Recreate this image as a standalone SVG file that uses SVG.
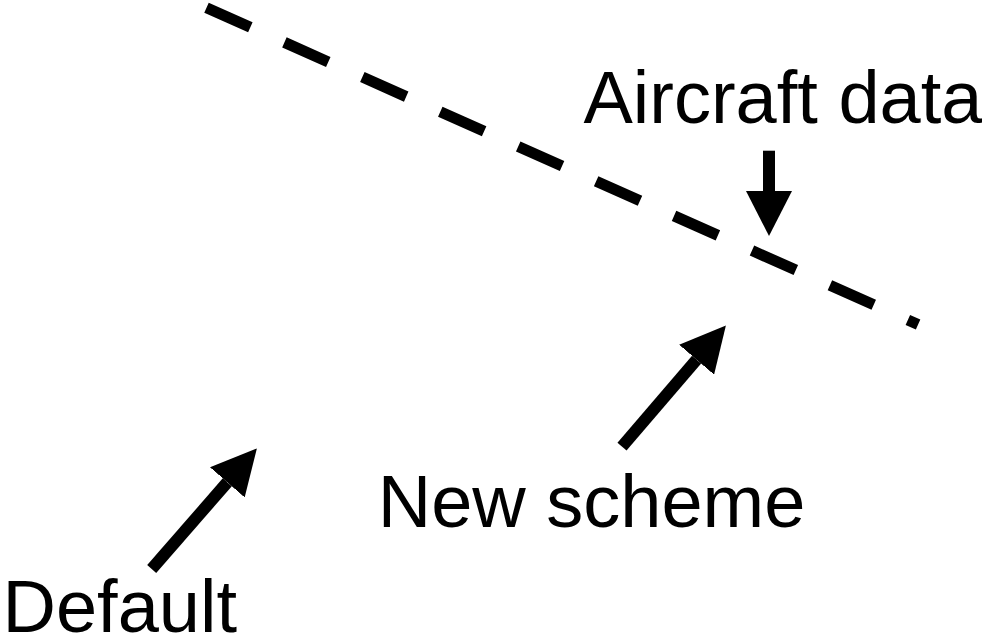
<svg xmlns="http://www.w3.org/2000/svg" width="982" height="642" viewBox="0 0 982 642">
  <style>
    .lbl { font-family: "Liberation Sans", Arial, sans-serif; font-size: 74px; fill: #000; }
    .shaft { stroke: #000; stroke-width: 12; fill: none; stroke-linecap: butt; }
    .dash { stroke: #000; stroke-width: 11; fill: none; stroke-dasharray: 48 37.3; stroke-linecap: butt; }
  </style>
  <defs>
    <marker id="ah" viewBox="0 0 45 46" refX="0" refY="23" markerWidth="45" markerHeight="46" markerUnits="userSpaceOnUse" orient="auto">
      <path d="M0,0 L45,23 L0,46 Z" fill="#000"/>
    </marker>
  </defs>
  <rect width="982" height="642" fill="#fff"/>
  <g id="boundary">
    <path class="dash" d="M206.5,7.7 L918.1,324.5"/>
  </g>
  <g id="label-aircraft-data">
    <text class="lbl" x="583.5" y="123.3">Aircraft data</text>
  </g>
  <g id="label-new-scheme">
    <text class="lbl" x="377.7" y="526.7">New scheme</text>
  </g>
  <g id="label-default">
    <text class="lbl" x="2.5" y="631.7">Default</text>
  </g>
  <g id="connectors">
    <line class="shaft" x1="769" y1="150.7" x2="769" y2="191" marker-end="url(#ah)"/>
    <line class="shaft" x1="622" y1="446.7" x2="696.6" y2="359.7" marker-end="url(#ah)"/>
    <line class="shaft" x1="151.7" y1="569" x2="227.3" y2="482.3" marker-end="url(#ah)"/>
  </g>
</svg>
